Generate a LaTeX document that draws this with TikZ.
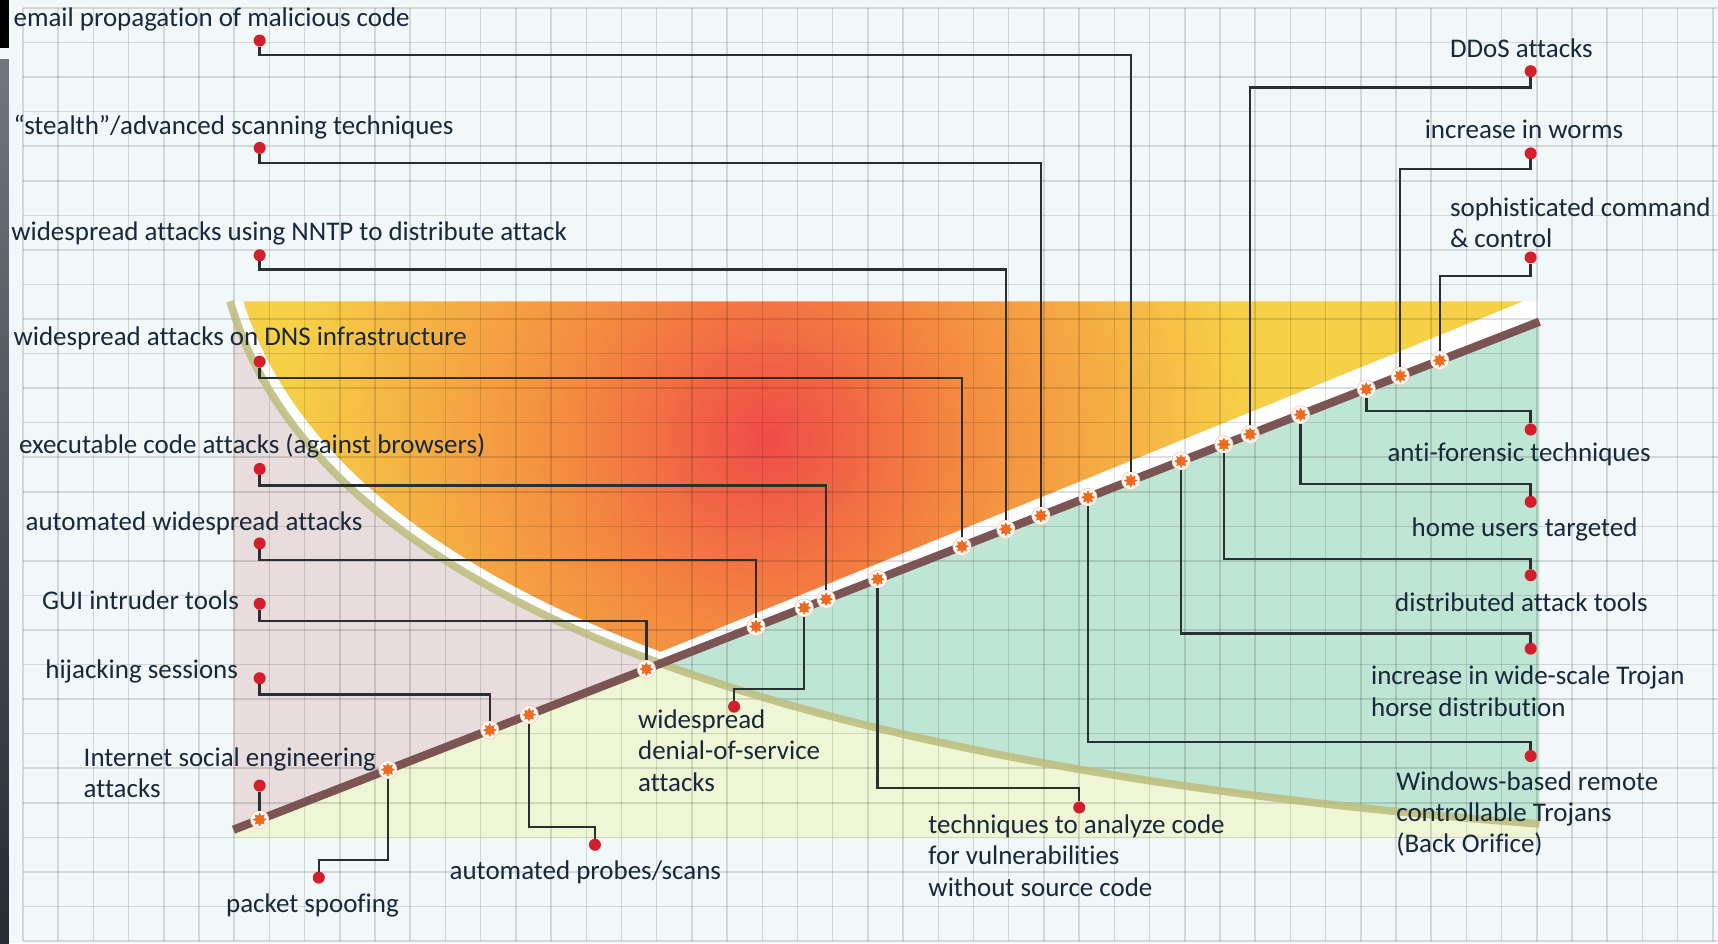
\documentclass[tikz,border=0pt]{standalone}
\usepackage{fontspec}
\setmainfont{Carlito}[Ligatures=NoCommon]
\usetikzlibrary{shapes.geometric}

\definecolor{paper color}{HTML}{F2F7FA}
\definecolor{edge top color}{HTML}{70767B}
\definecolor{edge bottom color}{HTML}{252B30}
\definecolor{low color}{HTML}{EEF6D6}
\definecolor{mint color}{HTML}{BFE5D4}
\definecolor{pink color}{HTML}{E8DCDD}
\definecolor{curve color}{HTML}{BDBC7C}
\definecolor{timeline color}{HTML}{7A5553}
\definecolor{wire color}{HTML}{2A2F33}
\definecolor{dot color}{HTML}{D21F2B}
\definecolor{event color}{HTML}{EE6A1E}
\definecolor{text color}{HTML}{17283A}
\definecolor{heatred}{HTML}{EF4B48}
\definecolor{heatorange}{HTML}{F48A40}
\definecolor{heatyellow}{HTML}{F6D047}
\pgfdeclareradialshading{heat}{\pgfpoint{0bp}{0bp}}{color(0bp)=(heatred); color(5.6bp)=(heatorange); color(13.8bp)=(heatyellow); color(50bp)=(heatyellow)}
\newcommand{\trendcurve}{(210,275) .. controls (290,550) and (720,700) .. (1405,752)}

\tikzset{
    x={0.5pt},
    y={-0.5pt},
    grid line/.style={
        draw=black, opacity=0.13,
        line width={0.7pt},
    },
    trend curve/.style={
        draw=curve color, opacity=0.85,
        line width={3.5pt},
    },
    timeline/.style={
        draw=timeline color,
        line width={3.8pt},
    },
    wire/.style={
        draw=wire color,
        line width={1.1pt},
    },
    label dot/.style={
        circle, fill=dot color,
        inner sep=0pt, outer sep=0pt,
        minimum size={5.5pt},
    },
    event/.style={
        circle, fill=white, draw=event color!30,
        line width={0.4pt},
        inner sep=0pt, outer sep=0pt,
        minimum size={8.2pt},
        path picture={
            \node[star, star points=8, star point ratio=1.7,
                fill=event color, inner sep=0pt,
                minimum size={6.5pt}] at (path picture bounding box.center) {};
        },
    },
    event label/.style={
        font={\fontsize{12.3}{14.3}\selectfont},
        text=text color,
        align=left, anchor=west,
        inner sep=0pt,
    },
}

\begin{document}
\begin{tikzpicture}
\useasboundingbox (0,0) rectangle (1568,861);
% paper
\fill[paper color] (0,0) rectangle (1568,861);
\fill[black] (0,0) rectangle (8,44);
\shade[top color=edge top color, bottom color=edge bottom color] (0,54) rectangle (8,861);
% regions
\fill[low color] (213,757.3) -- (1405,293.6) -- (1405,765) -- (213,765) -- cycle;
\begin{scope}
\clip \trendcurve -- (1500,752) -- (1500,200) -- (210,200) -- cycle;
\fill[mint color] (213,757.3) -- (1405,293.6) -- (1405,765) -- (213,765) -- cycle;
\fill[white] (150,275) -- (1405,275) -- (1405,293.6) -- (213,757.3) -- cycle;
\end{scope}
\begin{scope}
\clip \trendcurve -- (1405,900) -- (150,900) -- (150,275) -- cycle;
\fill[pink color] (213,275) -- (213,757.3) -- (1405,293.6) -- (1405,275) -- cycle;
\end{scope}
\begin{scope}
\clip[shift={(10,-7)}] \trendcurve -- (1500,752) -- (1500,200) -- (210,200) -- cycle;
\clip (150,275) -- (1390,275) -- (400,677.4) -- (150,677.4) -- cycle;
\shade[shading=heat] (700,400) circle [radius=800];
\end{scope}
% grid
\foreach \i in {0,...,48}
    \draw[grid line] ({21+32.13*\i},7.3) -- ({21+32.13*\i},859);
\foreach \j in {0,...,27}
    \draw[grid line] (21,{7.3+31.54*\j}) -- (1568,{7.3+31.54*\j});
% curve and timeline
\draw[trend curve] \trendcurve;
\draw[timeline] (213,757.3) -- (1405,293.6);
% events
\node[event] (social event) at (237,748.0) {};
\node[event] (spoofing event) at (354,702.5) {};
\node[event] (hijack event) at (447,666.3) {};
\node[event] (probes event) at (483,652.3) {};
\node[event] (gui event) at (590,610.7) {};
\node[event] (autowide event) at (690,571.8) {};
\node[event] (dos event) at (734,554.7) {};
\node[event] (exec event) at (754,546.9) {};
\node[event] (analyze event) at (801,528.6) {};
\node[event] (dns event) at (878,498.7) {};
\node[event] (nntp event) at (918,483.1) {};
\node[event] (stealth event) at (950,470.6) {};
\node[event] (windows event) at (993,453.9) {};
\node[event] (email event) at (1032,438.7) {};
\node[event] (trojan event) at (1078,420.9) {};
\node[event] (distributed event) at (1117,405.7) {};
\node[event] (ddos event) at (1141,396.3) {};
\node[event] (home event) at (1187,378.5) {};
\node[event] (forensic event) at (1247,355.1) {};
\node[event] (worms event) at (1278,343.1) {};
\node[event] (command event) at (1314,329.0) {};
% dots
\node[label dot] (email dot) at (237,37) {};
\node[label dot] (stealth dot) at (237,135) {};
\node[label dot] (nntp dot) at (237,233) {};
\node[label dot] (dns dot) at (237,330) {};
\node[label dot] (exec dot) at (237,428) {};
\node[label dot] (autowide dot) at (237,496) {};
\node[label dot] (gui dot) at (237,551) {};
\node[label dot] (hijack dot) at (237,619) {};
\node[label dot] (social dot) at (237,717) {};
\node[label dot] (spoofing dot) at (291,801) {};
\node[label dot] (probes dot) at (543,771) {};
\node[label dot] (dos dot) at (670,645) {};
\node[label dot] (analyze dot) at (985,737) {};
\node[label dot] (ddos dot) at (1397,65) {};
\node[label dot] (worms dot) at (1397,140) {};
\node[label dot] (command dot) at (1397,235) {};
\node[label dot] (forensic dot) at (1397,392) {};
\node[label dot] (home dot) at (1397,458) {};
\node[label dot] (distributed dot) at (1397,525) {};
\node[label dot] (trojan dot) at (1397,592) {};
\node[label dot] (windows dot) at (1397,690) {};
% wires
\draw[wire] (email dot) -- ++(0,13) -| (email event);
\draw[wire] (stealth dot) -- ++(0,14) -| (stealth event);
\draw[wire] (nntp dot) -- ++(0,13) -| (nntp event);
\draw[wire] (dns dot) -- ++(0,15) -| (dns event);
\draw[wire] (exec dot) -- ++(0,15) -| (exec event);
\draw[wire] (autowide dot) -- ++(0,15) -| (autowide event);
\draw[wire] (gui dot) -- ++(0,16) -| (gui event);
\draw[wire] (hijack dot) -- ++(0,15) -| (hijack event);
\draw[wire] (social dot) -- (social event);
\draw[wire] (spoofing dot) -- ++(0,-16) -| (spoofing event);
\draw[wire] (probes dot) -- ++(0,-16) -| (probes event);
\draw[wire] (dos dot) -- ++(0,-16) -| (dos event);
\draw[wire] (analyze dot) -- ++(0,-18) -| (analyze event);
\draw[wire] (ddos dot) -- ++(0,15) -| (ddos event);
\draw[wire] (worms dot) -- ++(0,14) -| (worms event);
\draw[wire] (command dot) -- ++(0,17) -| (command event);
\draw[wire] (forensic dot) -- ++(0,-17) -| (forensic event);
\draw[wire] (home dot) -- ++(0,-16) -| (home event);
\draw[wire] (distributed dot) -- ++(0,-15) -| (distributed event);
\draw[wire] (trojan dot) -- ++(0,-14) -| (trojan event);
\draw[wire] (windows dot) -- ++(0,-13) -| (windows event);
% labels
\node[event label] (email) at (12,18) {email propagation of malicious code};
\node[event label] (stealth) at (12,116) {“stealth”/advanced scanning techniques};
\node[event label] (nntp) at (10,213) {widespread attacks using NNTP to distribute attack};
\node[event label] (dns) at (12,309) {widespread attacks on DNS infrastructure};
\node[event label] (exec) at (17,407) {executable code attacks (against browsers)};
\node[event label] (autowide) at (23,478) {automated widespread attacks};
\node[event label] (gui) at (38,548) {GUI intruder tools};
\node[event label] (hijack) at (41,613) {hijacking sessions};
\node[event label] (social) at (76,705) {Internet social engineering\\attacks};
\node[event label] (spoofing) at (206,826) {packet spoofing};
\node[event label] (probes) at (410,796) {automated probes/scans};
\node[event label] (dos) at (582,685) {widespread\\denial-of-service\\attacks};
\node[event label] (analyze) at (847,781) {techniques to analyze code\\for vulnerabilities\\without source code};
\node[event label] (ddos) at (1323,44) {DDoS attacks};
\node[event label] (worms) at (1300,118) {increase in worms};
\node[event label] (command) at (1323,203) {sophisticated command\\\& control};
\node[event label] (forensic) at (1266,415) {anti-forensic techniques};
\node[event label] (home) at (1288,483) {home users targeted};
\node[event label] (distributed) at (1273,550) {distributed attack tools};
\node[event label] (trojan) at (1251,631) {increase in wide-scale Trojan\\horse distribution};
\node[event label] (windows) at (1274,743) {Windows-based remote\\controllable Trojans\\(Back Orifice)};
\end{tikzpicture}
\end{document}
